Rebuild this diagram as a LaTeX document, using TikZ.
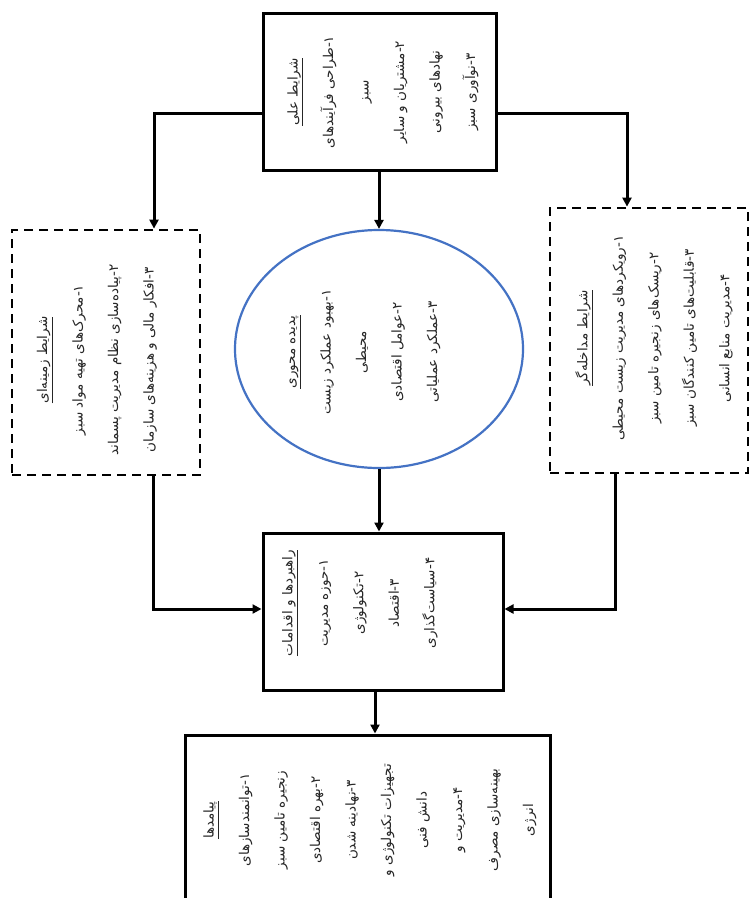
\documentclass[tikz,border=0pt]{standalone}
\usepackage{fontspec}
\newfontfamily\arabicfont[Script=Arabic]{DejaVu Sans}
\TeXXeTstate=1
\usetikzlibrary{arrows.meta,shapes.geometric}
\newcommand{\fa}[1]{\mbox{\arabicfont\beginR #1\endR}}
\newcommand{\faT}[1]{\underline{\mbox{\arabicfont\beginR #1\endR}}}
\definecolor{ellblue}{HTML}{4472C4}
\definecolor{txtgray}{HTML}{262626}
\tikzset{
  solidbox/.style={draw=black, line width=3pt, rectangle, inner sep=0pt, fill=white},
  dashbox/.style={draw=black, line width=2.8pt, dash pattern=on 9pt off 6pt, rectangle, inner sep=0pt, fill=white},
  ellnode/.style={draw=ellblue, line width=2.2pt, ellipse, inner sep=0pt},
  txt/.style={rotate=90, align=center, inner sep=0pt, text=txtgray, font=\fontsize{13.5}{35.5}\selectfont},
  arr/.style={draw=black, line width=3pt, -{Triangle[length=9pt,width=9pt]}}
}
\begin{document}
\begin{tikzpicture}[x=1pt,y=-1pt]
\clip (0,0) rectangle (753,898);
\fill[white] (0,0) rectangle (753,898);
% boxes
\node[solidbox, minimum width=233pt, minimum height=157pt] (causal) at (379.5,91.5) {};
\node[dashbox, minimum width=188pt, minimum height=245pt] (ctx) at (106,352.5) {};
\node[dashbox, minimum width=198pt, minimum height=265pt] (inter) at (649,340.5) {};
\node[ellnode, minimum width=288pt, minimum height=238pt] (phen) at (379,349) {};
\node[solidbox, minimum width=240pt, minimum height=157pt] (strat) at (383,611.5) {};
\node[solidbox, minimum width=365pt, minimum height=170pt] (outc) at (367.5,820) {};
% texts
\node[txt] (causalT) at (383,92) {\faT{شرایط علی}\\ \fa{۱-طراحی فرآیندهای}\\ \fa{سبز}\\ \fa{۲-مشتریان و سایر}\\ \fa{نهادهای بیرونی}\\ \fa{۳-نوآوری سبز}};
\node[txt] (ctxT) at (97,360) {\faT{شرایط زمینه‌ای}\\ \fa{۱-محرک‌های تهیه مواد سبز}\\ \fa{۲-پیاده‌سازی نظام مدیریت پسماند}\\ \fa{۳-افکار مالی و هزینه‌های سازمان}};
\node[txt] (interT) at (654,338) {\faT{شرایط مداخله‌گر}\\ \fa{۱-رویکردهای مدیریت زیست محیطی}\\ \fa{۲-ریسک‌های زنجیره تامین سبز}\\ \fa{۳-قابلیت‌های تامین کنندگان سبز}\\ \fa{۴-مدیریت منابع انسانی}};
\node[txt] (phenT) at (365,352) {\faT{پدیده محوری}\\ \fa{۱-بهبود عملکرد زیست}\\ \fa{محیطی}\\ \fa{۲-عوامل اقتصادی}\\ \fa{۳-عملکرد عملیاتی}};
\node[txt] (stratT) at (360,603) {\faT{راهبردها و اقدامات}\\ \fa{۱-حوزه مدیریت}\\ \fa{۲-تکنولوژی}\\ \fa{۳-اقتصاد}\\ \fa{۴-سیاست‌گذاری}};
\node[txt] (outcT) at (370,820) {\faT{پیامدها}\\ \fa{۱-توانمندسازهای}\\ \fa{زنجیره تامین سبز}\\ \fa{۲-بهره اقتصادی}\\ \fa{۳-نهادینه شدن}\\ \fa{تجهیزات تکنولوژی و}\\ \fa{دانش فنی}\\ \fa{۴-مدیریت و}\\ \fa{بهینه‌سازی مصرف}\\ \fa{انرژی}};
% connectors
\coordinate (c1) at (154,113);
\coordinate (c2) at (627,113);
\coordinate (c3) at (153,609);
\coordinate (c4) at (615,609);
\coordinate (c5) at (375,0);
\draw[arr] (causal.west |- c1) -| (c1 |- ctx.north);
\draw[arr] (causal.east |- c2) -| (c2 |- inter.north);
\draw[arr] (causal.south -| phen.north) -- (phen.north);
\draw[arr] (c3 |- ctx.south) |- (strat.west |- c3);
\draw[arr] (c4 |- inter.south) |- (strat.east |- c4);
\draw[arr] (phen.south) -- (phen.south |- strat.north);
\draw[arr] (c5 |- strat.south) -- (c5 |- outc.north);
\end{tikzpicture}
\end{document}
